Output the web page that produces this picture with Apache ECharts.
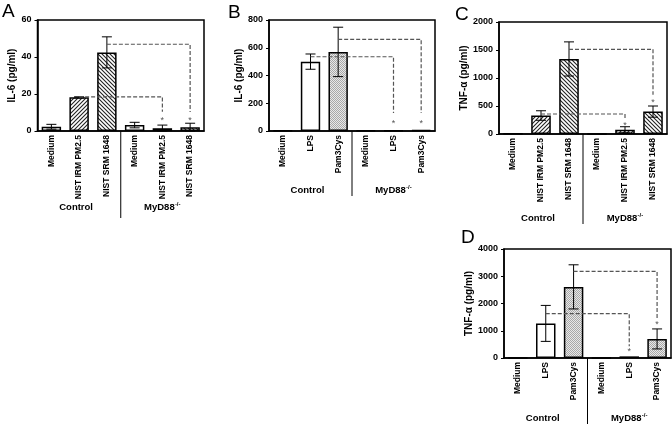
<!DOCTYPE html>
<html><head><meta charset="utf-8">
<script src="https://cdn.jsdelivr.net/npm/echarts@6/dist/echarts.min.js"></script>
<style>html,body{margin:0;padding:0;background:#fff}#c{width:672px;height:424px}</style>
</head><body><div id="c"></div>
<script>
// ---- data ----
const catsPM = ['Medium','NIST IRM PM2.5','NIST SRM 1648','Medium','NIST IRM PM2.5','NIST SRM 1648'];
const catsTLR = ['Medium','LPS','Pam3Cys','Medium','LPS','Pam3Cys'];
const groupLabels = ['Control','MyD88'];
const fillPM = ['none','fwd','back','none','fwd','back'];
const fillTLR = ['none','none','dot','none','none','dot'];

const meanA = [2.3, 18.2, 42.5, 3.2, 1.5, 2.0];
const sdA   = [1.3, 0.3, 8.4, 1.5, 1.7, 2.2];
const meanB = [3, 500, 570, 3, 2, 6];
const sdB   = [0, 55, 178, 0, 0, 0];
const meanC = [5, 330, 1340, 0, 75, 400];
const sdC   = [0, 85, 305, 0, 55, 100];
const meanD = [0, 1270, 2610, 0, 60, 700];
const sdD   = [0, 660, 810, 0, 0, 367];

// connectors: [fromIdx, toIdx, level, endLevel, asteriskLevel]
const linkA = [[1,4,18.5,10.4,7.0],[2,5,46.9,10.3,7.0]];
const linkB = [[1,4,535,130,70],[2,5,661,130,70]];
const linkC = [[1,4,357,250,190],[2,5,1512,700,600]];
const linkD = [[1,4,1626,430,300],[2,5,3178,1470,1300]];

const yTicksA = [0,60,20], yTicksB = [0,800,200], yTicksC = [0,2000,500], yTicksD = [0,4000,1000];

// ---- styling ----
const FF = '"Liberation Sans", Arial, sans-serif';
function mkPattern(kind){
  const c = document.createElement('canvas');
  if (kind === 'dot') {
    c.width = 2; c.height = 2;
    const g = c.getContext('2d');
    g.fillStyle = '#e8e8e8'; g.fillRect(0,0,2,2);
    g.fillStyle = '#a8a8a8'; g.fillRect(0,0,1,1); g.fillRect(1,1,1,1);
    return c;
  }
  const s = 4;
  c.width = s; c.height = s;
  const g = c.getContext('2d');
  g.fillStyle = '#fff'; g.fillRect(0,0,s,s);
  g.strokeStyle = '#222'; g.lineWidth = 1.1;
  g.beginPath();
  if (kind === 'fwd') {
    g.moveTo(-1, s+1); g.lineTo(s+1, -1);
    g.moveTo(-1, 1); g.lineTo(1, -1);
    g.moveTo(s-1, s+1); g.lineTo(s+1, s-1);
  } else {
    g.moveTo(-1, -1); g.lineTo(s+1, s+1);
    g.moveTo(s-1, -1); g.lineTo(s+1, 1);
    g.moveTo(-1, s-1); g.lineTo(1, s+1);
  }
  g.stroke();
  return c;
}
const pats = {fwd: mkPattern('fwd'), back: mkPattern('back'), dot: mkPattern('dot')};
function fillOf(k){ return k === 'none' ? '#fff' : {image: pats[k], repeat: 'repeat'}; }

const panels = [
  {cats: catsPM, fill: fillPM, mean: meanA, sd: sdA, link: linkA, ticks: yTicksA, name: 'IL-6 (pg/ml)',
   grid: {left: 37.5, top: 20, width: 166.5, height: 111}, letter: ['A', 2, 2], groupY: 207, divEnd: 218},
  {cats: catsTLR, fill: fillTLR, mean: meanB, sd: sdB, link: linkB, ticks: yTicksB, name: 'IL-6 (pg/ml)',
   grid: {left: 269, top: 20, width: 166, height: 111}, letter: ['B', 228, 3], groupY: 190, divEnd: 196},
  {cats: catsPM, fill: fillPM, mean: meanC, sd: sdC, link: linkC, ticks: yTicksC, name: 'TNF-\u03b1 (pg/ml)',
   grid: {left: 499, top: 22, width: 168, height: 112}, letter: ['C', 455, 5], groupY: 218, divEnd: 224},
  {cats: catsTLR, fill: fillTLR, mean: meanD, sd: sdD, link: linkD, ticks: yTicksD, name: 'TNF-\u03b1 (pg/ml)',
   grid: {left: 504, top: 249, width: 167, height: 109}, letter: ['D', 461, 228], groupY: 418, divEnd: 424}
];

const grids = [], xAxes = [], yAxes = [], series = [];
panels.forEach((p, k) => {
  grids.push(Object.assign({show: true, borderColor: '#000', borderWidth: 1.5, backgroundColor: 'transparent'}, p.grid));
  xAxes.push({type: 'category', gridIndex: k, data: p.cats,
    axisLine: {lineStyle: {color: '#000', width: 1.5}}, axisTick: {show: false},
    axisLabel: {rotate: 90, margin: 4, color: '#000', fontFamily: FF, fontWeight: 'bold', fontSize: 8.5, interval: 0}});
  yAxes.push({type: 'value', gridIndex: k, min: p.ticks[0], max: p.ticks[1], interval: p.ticks[2],
    splitLine: {show: false},
    axisLine: {show: true, lineStyle: {color: '#000', width: 1.5}},
    axisTick: {show: true, length: 3, lineStyle: {color: '#000', width: 1}},
    axisLabel: {margin: 6, color: '#000', fontFamily: FF, fontWeight: 'bold', fontSize: 9,
      formatter: v => String(v)},
    name: p.name, nameLocation: 'middle', nameRotate: 90, nameGap: k === 0 ? 20 : (k === 1 ? 25 : 29),
    nameTextStyle: {color: '#000', fontFamily: FF, fontWeight: 'bold', fontSize: 10}});
  series.push({type: 'bar', xAxisIndex: k, yAxisIndex: k, barWidth: '70%', silent: true,
    data: p.mean.map((v, i) => ({value: v, itemStyle: {color: fillOf(p.fill[i]), borderColor: '#000', borderWidth: 1.5}})),
    z: 2});
  series.push({type: 'custom', xAxisIndex: k, yAxisIndex: k, z: 3, silent: true,
    data: p.mean.map((v, i) => [i, v, p.sd[i]]).filter(d => d[2] > 0),
    renderItem: function(params, api){
      const x = api.value(0), m = api.value(1), s = api.value(2);
      const t = api.coord([x, m + s]), b = api.coord([x, Math.max(0, m - s)]);
      const hw = 5, st = {stroke: '#000', lineWidth: 1};
      return {type: 'group', children: [
        {type: 'line', shape: {x1: t[0], y1: t[1], x2: b[0], y2: b[1]}, style: st},
        {type: 'line', shape: {x1: t[0]-hw, y1: t[1], x2: t[0]+hw, y2: t[1]}, style: st},
        {type: 'line', shape: {x1: b[0]-hw, y1: b[1], x2: b[0]+hw, y2: b[1]}, style: st}
      ]};
    }});
  series.push({type: 'custom', xAxisIndex: k, yAxisIndex: k, z: 4, silent: true,
    data: p.link,
    renderItem: function(params, api){
      const f = api.value(0), t = api.value(1), lv = api.value(2), e = api.value(3), a = api.value(4);
      const p1 = api.coord([f, lv]), p2 = api.coord([t, lv]), p3 = api.coord([t, e]), pa = api.coord([t, a]);
      return {type: 'group', children: [
        {type: 'polyline', shape: {points: [p1, p2, p3]},
         style: {stroke: '#555', lineWidth: 1.2, lineDash: [4, 2], fill: null}},
        {type: 'text', x: pa[0], y: pa[1] + 2,
         style: {text: '*', font: '9px ' + FF, fill: '#555', align: 'center', verticalAlign: 'middle'}}
      ]};
    }});
});

const chart = echarts.init(document.getElementById('c'), null, {renderer: 'canvas'});
chart.setOption({animation: false, grid: grids, xAxis: xAxes, yAxis: yAxes, series: series});

// decorations: panel letters, group labels, divider lines
const graphic = [];
panels.forEach((p, k) => {
  graphic.push({type: 'text', left: p.letter[1], top: p.letter[2],
    style: {text: p.letter[0], font: '19px ' + FF, fill: '#000'}});
  const px = i => chart.convertToPixel({xAxisIndex: k}, i);
  const x2 = px(2), x3 = px(3);
  const divX = (x2 + x3) / 2;
  const bottom = p.grid.top + p.grid.height;
  graphic.push({type: 'line', shape: {x1: divX, y1: bottom, x2: divX, y2: p.divEnd},
    style: {stroke: '#000', lineWidth: 1}});
  const cx1 = px(1), cx2 = px(4);
  graphic.push({type: 'text', x: cx1 - 3, y: p.groupY, style: {text: groupLabels[0],
    font: 'bold 9.5px ' + FF, fill: '#000', align: 'center', verticalAlign: 'middle'}});
  graphic.push({type: 'text', x: cx2 - 3, y: p.groupY, style: {text: groupLabels[1],
    font: 'bold 9.5px ' + FF, fill: '#000', align: 'center', verticalAlign: 'middle'}});
  graphic.push({type: 'text', x: cx2 + 12.5, y: p.groupY - 3, style: {text: '-/-',
    font: 'bold 6px ' + FF, fill: '#000', align: 'left', verticalAlign: 'middle'}});
});
chart.setOption({graphic: graphic});
</script></body></html>
